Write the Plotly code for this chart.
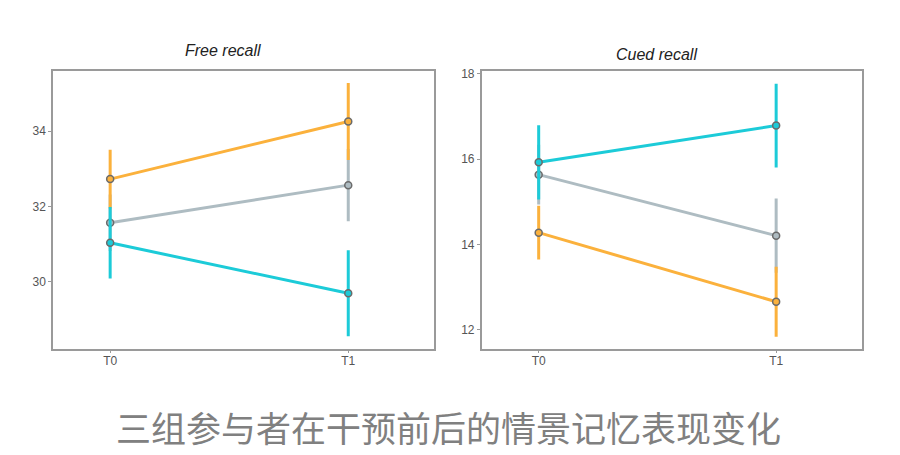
import plotly.graph_objects as go

times = ["T0", "T1"]
groups = ["gray", "orange", "cyan"]
colors = {"gray": "#AEBCC2", "orange": "#FBB13C", "cyan": "#1CCBD8"}

free_mean = {"gray": [31.57, 32.57], "orange": [32.73, 34.26], "cyan": [31.04, 29.70]}
free_err = {"gray": [0.75, 0.96], "orange": [0.78, 1.02], "cyan": [0.95, 1.14]}
cued_mean = {"gray": [15.64, 14.21], "orange": [14.28, 12.66], "cyan": [15.93, 16.79]}
cued_err = {"gray": [0.70, 0.87], "orange": [0.63, 0.82], "cyan": [0.87, 0.98]}

free_ticks = [30, 32, 34]
cued_ticks = [12, 14, 16, 18]

fig = go.Figure()
for panel, (means, errs) in enumerate([(free_mean, free_err), (cued_mean, cued_err)]):
    xa = "x" if panel == 0 else "x2"
    ya = "y" if panel == 0 else "y2"
    for g in groups:
        fig.add_trace(go.Scatter(
            x=times, y=means[g], xaxis=xa, yaxis=ya, mode="lines+markers",
            line=dict(color=colors[g], width=3),
            marker=dict(size=7, color=colors[g], line=dict(color="#6b6b6b", width=1.5)),
            error_y=dict(type="data", array=errs[g], visible=True, color=colors[g],
                         thickness=3, width=0),
            showlegend=False, cliponaxis=False,
        ))

axis_common = dict(showline=True, linecolor="#9a9a9a", linewidth=1.5, mirror=True,
                   showgrid=False, zeroline=False, ticks="outside", ticklen=3,
                   tickcolor="#9a9a9a", tickfont=dict(family="Liberation Sans", size=12, color="#555555"))

fig.update_layout(
    width=900, height=455, margin=dict(l=0, r=0, t=0, b=0),
    paper_bgcolor="white", plot_bgcolor="white",
    xaxis=dict(domain=[0.0589, 0.4822], anchor="y", type="category",
               range=[-0.24, 1.36], ticklabelstandoff=-3, **axis_common),
    yaxis=dict(domain=[0.2352, 0.8505], anchor="x", range=[28.23, 35.61],
               tickvals=free_ticks, **axis_common),
    xaxis2=dict(domain=[0.5352, 0.9574], anchor="y2", type="category",
                range=[-0.24, 1.36], ticklabelstandoff=-3, **axis_common),
    yaxis2=dict(domain=[0.2352, 0.8505], anchor="x2", range=[11.56, 18.08],
                tickvals=cued_ticks, **axis_common),
    annotations=[
        dict(text="<i>Free recall</i>", x=0.248, y=(455 - 48) / 455, xref="paper", yref="paper",
             xanchor="center", yanchor="middle", showarrow=False,
             font=dict(family="Liberation Sans", size=16, color="#222222")),
        dict(text="<i>Cued recall</i>", x=0.7297, y=(455 - 51.5) / 455, xref="paper", yref="paper",
             xanchor="center", yanchor="middle", showarrow=False,
             font=dict(family="Liberation Sans", size=16, color="#222222")),
        dict(text="三组参与者在干预前后的情景记忆表现变化", x=0.4983, y=(455 - 426) / 455,
             xref="paper", yref="paper", xanchor="center", yanchor="middle", showarrow=False,
             font=dict(family="Noto Sans CJK SC", size=35, color="#808080")),
    ],
)

fig.write_html("out.html")
